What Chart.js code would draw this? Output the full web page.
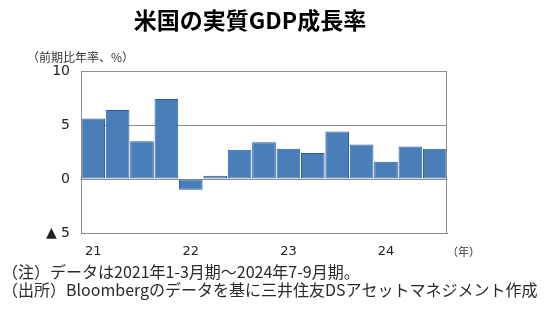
<!DOCTYPE html>
<html><head><meta charset="utf-8">
<script src="https://cdn.jsdelivr.net/npm/chart.js@4/dist/chart.umd.min.js"></script>
<style>html,body{margin:0;padding:0;background:#fff;}#wrap{width:550px;height:330px;position:relative;}</style>
</head><body><div id="wrap"><canvas id="c" width="550" height="330"></canvas></div>
<script>
const quarters = ['21Q1','21Q2','21Q3','21Q4','22Q1','22Q2','22Q3','22Q4','23Q1','23Q2','23Q3','23Q4','24Q1','24Q2','24Q3'];
const yearLabels = ['21','','','','22','','','','23','','','','24','',''];
const gdpGrowth = [5.6, 6.4, 3.5, 7.4, -1.0, 0.3, 2.7, 3.4, 2.8, 2.4, 4.4, 3.2, 1.6, 3.0, 2.8];
const titleText = '米国の実質GDP成長率';
const yAxisTitle = '（前期比年率、%）';
const xUnit = '（年）';
const notes = ['（注）データは2021年1-3月期～2024年7-9月期。', '（出所）Bloombergのデータを基に三井住友DSアセットマネジメント作成'];

const JP = '"Noto Sans CJK JP", "Noto Sans", sans-serif';
const NUM = '"DejaVu Sans", Verdana, sans-serif';

const extras = {
  id: 'extras',
  afterDraw(chart) {
    const ctx = chart.ctx, a = chart.chartArea;
    ctx.save();
    ctx.strokeStyle = '#8c8c8c'; ctx.lineWidth = 1;
    ctx.strokeRect(Math.round(a.left) + 0.5, Math.round(a.top) + 0.5, Math.round(a.right - a.left) - 1, Math.round(a.bottom - a.top));
    ctx.fillStyle = '#000';
    ctx.font = 'bold 23px ' + JP;
    ctx.textAlign = 'center'; ctx.textBaseline = 'middle';
    ctx.fillText(titleText, 250, 20);
    ctx.fillStyle = '#333';
    ctx.font = '12px ' + JP;
    ctx.textAlign = 'left';
    ctx.fillText(yAxisTitle, 27, 57);
    ctx.font = '11px ' + JP;
    ctx.fillText(xUnit, 447, 252);
    ctx.font = '16px ' + JP;
    ctx.fillStyle = '#2a2a2a';
    ctx.fillText(notes[0], 2, 272, 360);
    ctx.fillText(notes[1], 2, 290, 537);
    ctx.restore();
  }
};

new Chart(document.getElementById('c'), {
  type: 'bar',
  data: {
    labels: yearLabels,
    datasets: [{
      data: gdpGrowth,
      backgroundColor: '#4a7ebb',
      borderColor: '#2c5f99',
      borderWidth: 1,
      borderSkipped: false,
      categoryPercentage: 1.0,
      barPercentage: 0.97
    }]
  },
  options: {
    responsive: false,
    animation: false,
    devicePixelRatio: 1,
    layout: { padding: { left: 0, right: 103, top: 71, bottom: 67 } },
    plugins: { legend: { display: false }, tooltip: { enabled: false }, title: { display: false } },
    scales: {
      x: {
        grid: { display: false, drawTicks: false },
        border: { display: true, color: '#8c8c8c' },
        ticks: { autoSkip: false, maxRotation: 0, padding: 11, color: '#222', font: { family: NUM, size: 13 } },
        afterFit(s) { s.height = 30; }
      },
      y: {
        min: -5, max: 10,
        ticks: { stepSize: 5, padding: 11, color: '#222', font: { family: NUM, size: 14 },
          callback: v => v < 0 ? '▲ ' + Math.abs(v) : String(v) },
        grid: { color: '#8c8c8c', drawTicks: false, lineWidth: 1 },
        border: { display: true, color: '#8c8c8c' },
        afterFit(s) { s.width = 81; }
      }
    }
  },
  plugins: [extras]
});
</script></body></html>
